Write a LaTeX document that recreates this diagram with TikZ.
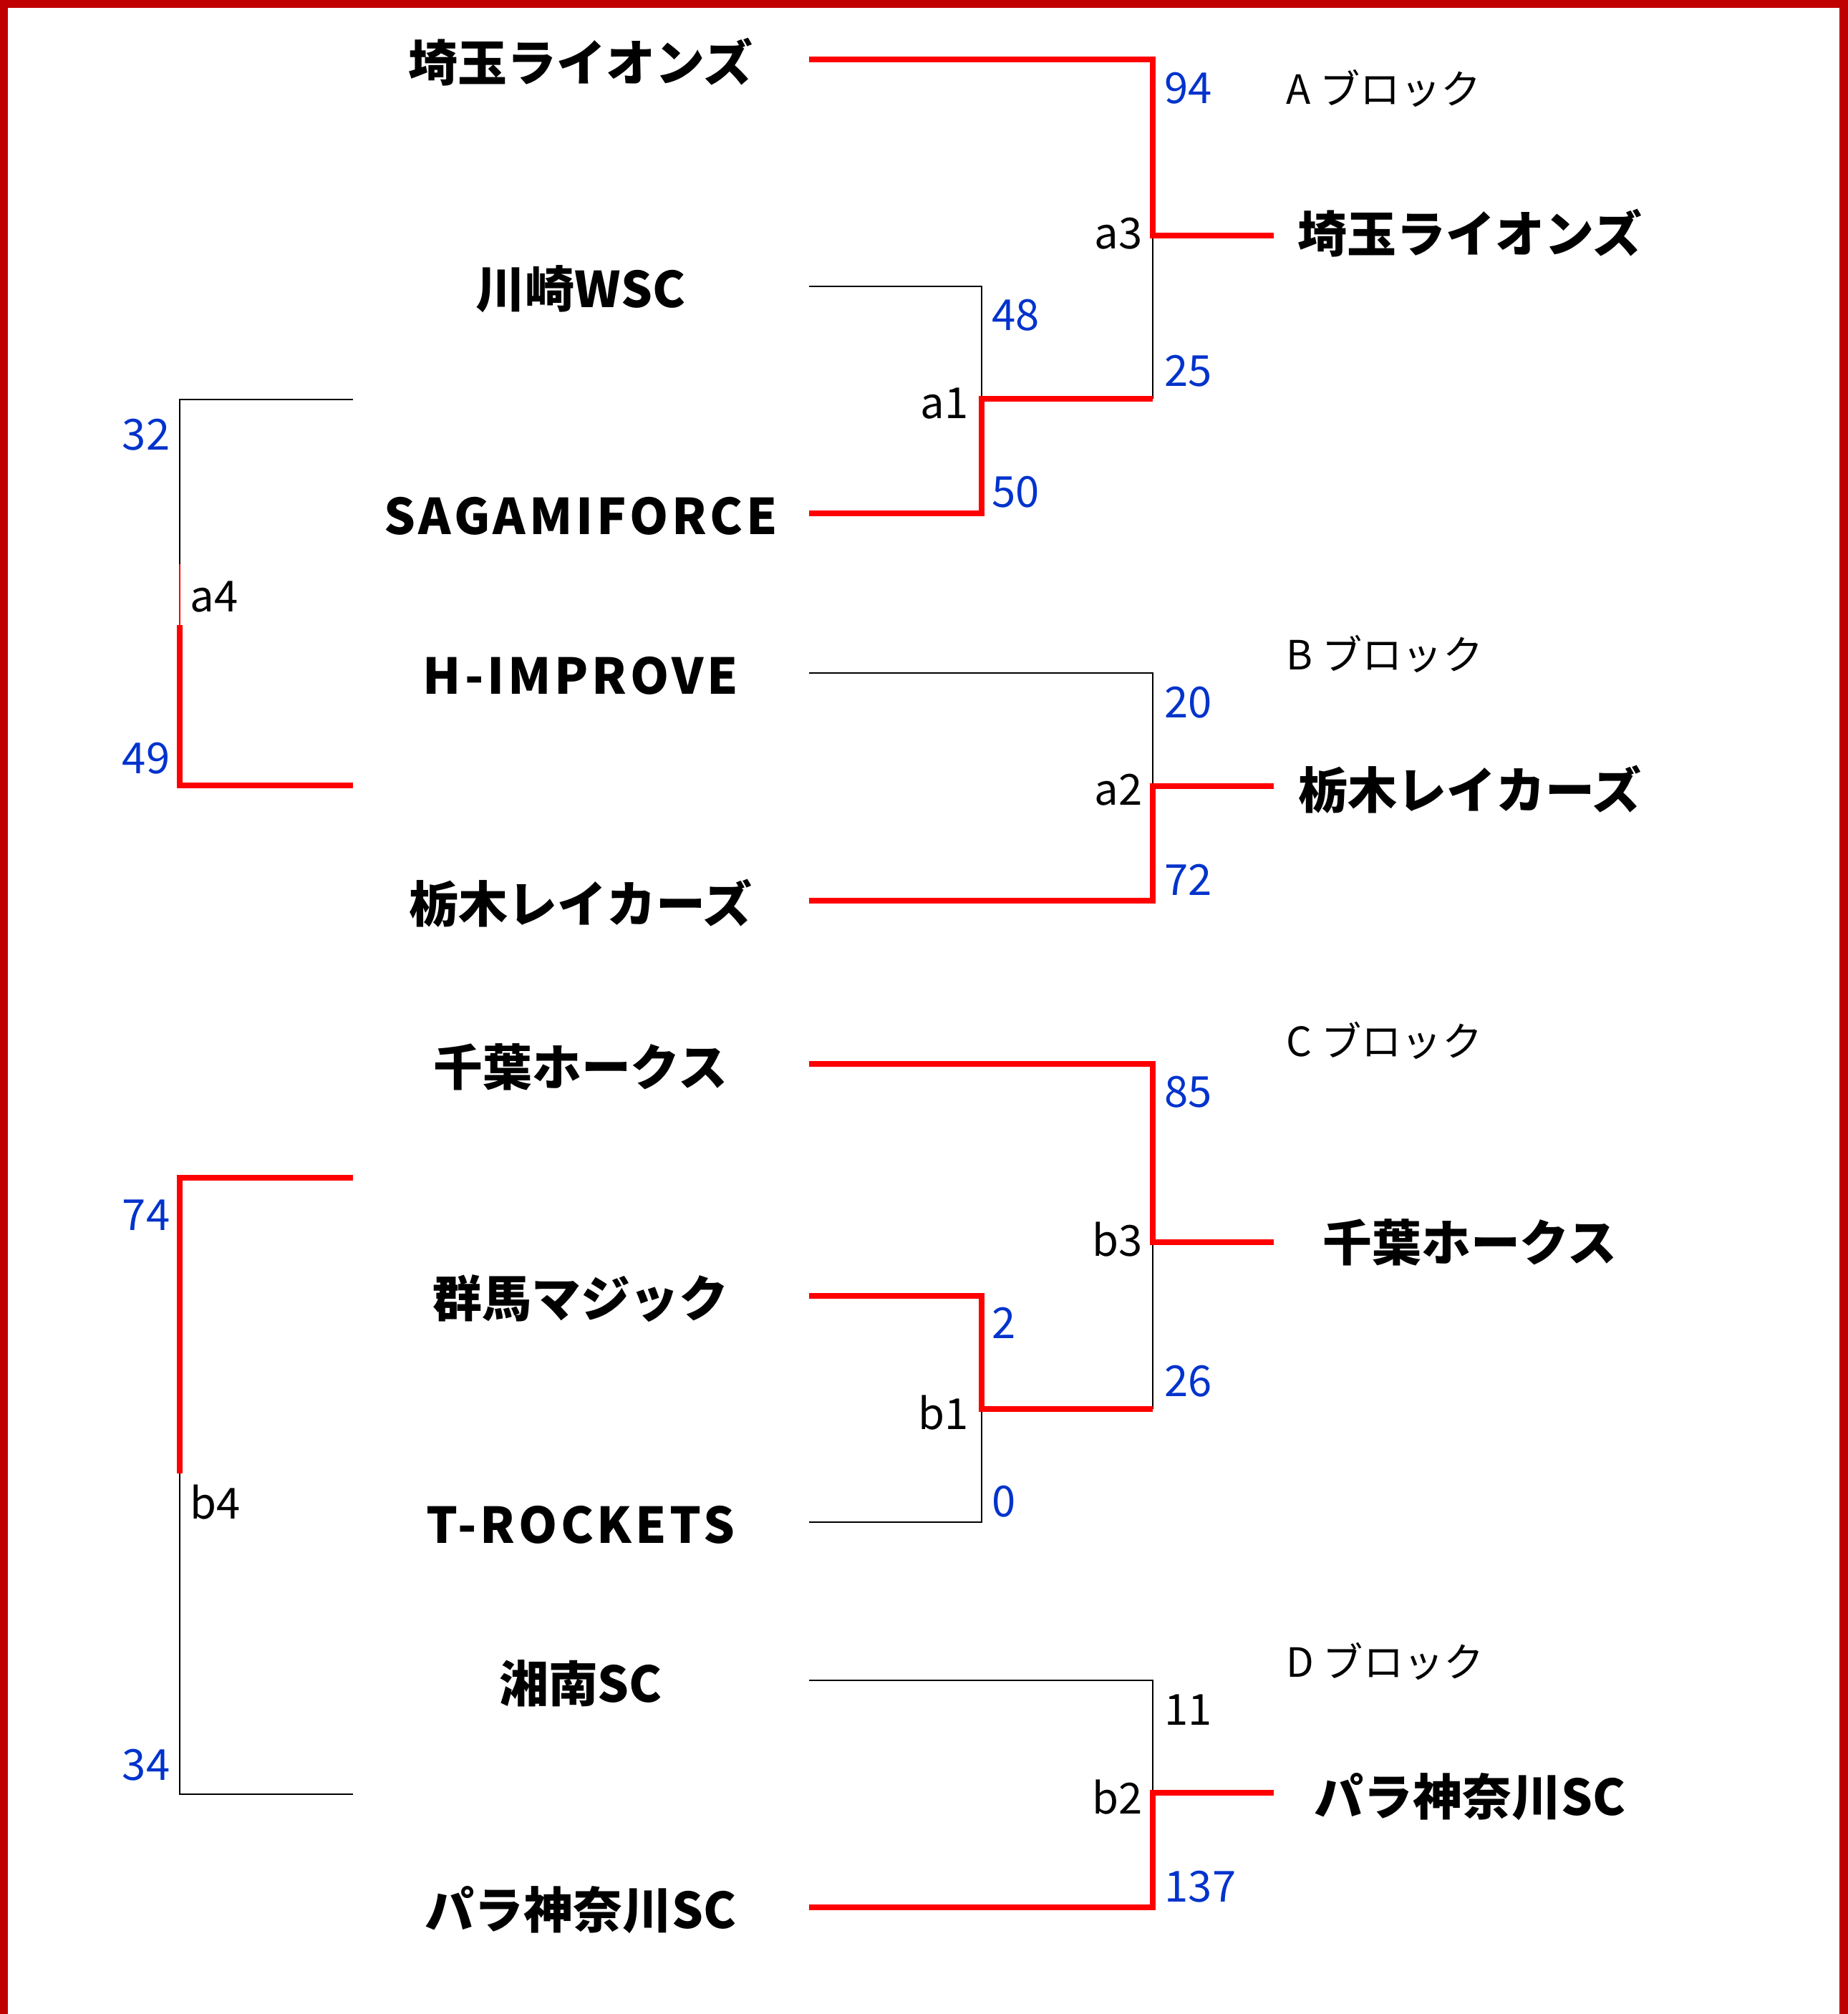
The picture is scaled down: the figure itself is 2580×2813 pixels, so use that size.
\documentclass[tikz,border=0pt]{standalone}
\usepackage{fontspec}
\newfontfamily\jpfont{Noto Sans CJK JP}
\definecolor{framered}{RGB}{192,0,0}
\definecolor{scoreblue}{RGB}{0,51,204}
\begin{document}
\begin{tikzpicture}[x=0.01cm,y=-0.01cm]
    \tikzset{
    team/.style={font=\jpfont\bfseries\fontsize{19.6pt}{24pt}\selectfont, inner sep=0pt},
    teamwide/.style={team, font=\jpfont\bfseries\fontsize{19.6pt}{24pt}\selectfont\addfontfeature{LetterSpace=7}},
    score/.style={font=\jpfont\fontsize{17pt}{20pt}\selectfont, text=scoreblue, inner sep=0pt},
    game/.style={font=\jpfont\fontsize{17pt}{20pt}\selectfont, inner sep=0pt},
    block/.style={font=\jpfont\fontsize{16pt}{20pt}\selectfont, inner sep=0pt, anchor=west},
    lose/.style={line width=0.75pt, black},
    win/.style={line width=2.1pt, red},
    winthin/.style={line width=0.6pt, red},
    }
    \useasboundingbox (0,0) rectangle (2580,2813);
    \draw[line width=6.2pt, framered] (0,2813) -- (0,0) -- (2580,0) -- (2580,2813);

    \node[team] (t1) at (811,87) {埼玉ライオンズ};
    \node[team] (t2) at (811,404) {川崎WSC};
    \node[teamwide] (t3) at (811,721) {SAGAMIFORCE};
    \node[teamwide] (t4) at (811,944) {H-IMPROVE};
    \node[team] (t5) at (811,1262) {栃木レイカーズ};
    \node[team] (t6) at (811,1490) {千葉ホークス};
    \node[team] (t7) at (811,1814) {群馬マジック};
    \node[teamwide] (t8) at (811,2130) {T-ROCKETS};
    \node[team] (t9) at (811,2351) {湘南SC};
    \node[team] (t10) at (811,2668) {パラ神奈川SC};

    \node[team] (w1) at (2053,326) {埼玉ライオンズ};
    \node[team] (w2) at (2053,1103) {栃木レイカーズ};
    \node[team] (w3) at (2053,1735) {千葉ホークス};
    \node[team] (w4) at (2053,2510) {パラ神奈川SC};

    \node[block] (ba) at (1796,124) {A ブロック};
    \node[block] (bb) at (1796,913) {B ブロック};
    \node[block] (bc) at (1796,1453) {C ブロック};
    \node[block] (bd) at (1796,2320) {D ブロック};

    \coordinate (s1) at (1130,83);
    \coordinate (s2) at (1130,400);
    \coordinate (s3) at (1130,717);
    \coordinate (s4) at (1130,940);
    \coordinate (s5) at (1130,1258);
    \coordinate (s6) at (1130,1486);
    \coordinate (s7) at (1130,1810);
    \coordinate (s8) at (1130,2126);
    \coordinate (s9) at (1130,2347);
    \coordinate (s10) at (1130,2664);

    \coordinate (a1) at (1371,557);
    \coordinate (a1e) at (1610,557);
    \coordinate (a3) at (1610,329);
    \coordinate (a3e) at (1779,329);
    \coordinate (a2) at (1610,1098);
    \coordinate (a2e) at (1779,1098);
    \coordinate (b1) at (1371,1968);
    \coordinate (b1e) at (1610,1968);
    \coordinate (b3) at (1610,1735);
    \coordinate (b3e) at (1779,1735);
    \coordinate (b2) at (1610,2504);
    \coordinate (b2e) at (1779,2504);

    \coordinate (a4t) at (493,558);
    \coordinate (a4) at (251,788);
    \coordinate (a4r) at (251,873);
    \coordinate (a4b) at (493,1097);
    \coordinate (b4t) at (493,1645);
    \coordinate (b4) at (251,2058);
    \coordinate (b4b) at (493,2506);

    % A block
    \draw[lose] (s2) -| (a1);
    \draw[lose] (a1e) -- (a3);
    \draw[win] (s1) -| (a3) -- (a3e);
    \draw[win] (s3) -| (a1) -- (a1e);

    % B block
    \draw[lose] (s4) -| (a2);
    \draw[win] (s5) -| (a2) -- (a2e);

    % C block
    \draw[lose] (s8) -| (b1);
    \draw[lose] (b1e) -- (b3);
    \draw[win] (s6) -| (b3) -- (b3e);
    \draw[win] (s7) -| (b1) -- (b1e);

    % D block
    \draw[lose] (s9) -| (b2);
    \draw[win] (s10) -| (b2) -- (b2e);

    % left side
    \draw[lose] (a4t) -| (a4);
    \draw[winthin] (a4) -- (a4r);
    \draw[win] (a4r) |- (a4b);
    \draw[win] (b4t) -| (b4);
    \draw[lose] (b4) |- (b4b);

    \node[score, anchor=west] (n94) at (1626,123) {94};
    \node[score, anchor=west] (n25) at (1626,518) {25};
    \node[score, anchor=west] (n48) at (1385,440) {48};
    \node[score, anchor=west] (n50) at (1385,687) {50};
    \node[score, anchor=west] (n20) at (1626,981) {20};
    \node[score, anchor=west] (n72) at (1626,1229) {72};
    \node[score, anchor=west] (n85) at (1626,1525) {85};
    \node[score, anchor=west] (n26) at (1626,1929) {26};
    \node[score, anchor=west] (n2) at (1385,1848) {2};
    \node[score, anchor=west] (n0) at (1385,2097) {0};
    \node[game, anchor=west] (n11) at (1626,2388) {11};
    \node[score, anchor=west] (n137) at (1626,2635) {137};
    \node[score, anchor=east] (n32) at (238,607) {32};
    \node[score, anchor=east] (n49) at (238,1059) {49};
    \node[score, anchor=east] (n74) at (238,1697) {74};
    \node[score, anchor=east] (n34) at (238,2465) {34};

    \node[game, anchor=east] (ga1) at (1353,564) {a1};
    \node[game, anchor=east] (ga3) at (1596,326) {a3};
    \node[game, anchor=east] (ga2) at (1596,1103) {a2};
    \node[game, anchor=west] (ga4) at (265,834) {a4};
    \node[game, anchor=east] (gb1) at (1353,1973) {b1};
    \node[game, anchor=east] (gb3) at (1596,1731) {b3};
    \node[game, anchor=east] (gb2) at (1596,2510) {b2};
    \node[game, anchor=west] (gb4) at (265,2098) {b4};
\end{tikzpicture}
\end{document}
